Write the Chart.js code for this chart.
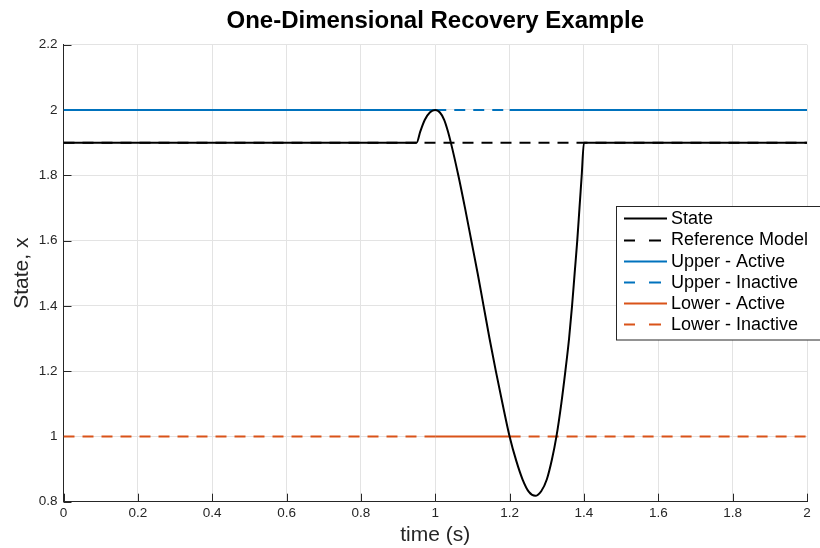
<!DOCTYPE html>
<html>
<head>
<meta charset="utf-8">
<title>One-Dimensional Recovery Example</title>
<script src="https://cdn.jsdelivr.net/npm/chart.js@4.4.1/dist/chart.umd.min.js"></script>
<style>
  body { margin: 0; background: #fff; }
  #wrap { width: 820px; height: 548px; }
</style>
</head>
<body>
<div id="wrap"><canvas id="recoveryChart" width="820" height="548"></canvas></div>
<script>
// State trajectory (time in s, state x)
const stateTime = [0, 0.95, 0.96, 0.972, 0.986, 1.0, 1.012, 1.024, 1.034, 1.042, 1.062, 1.080, 1.097, 1.114,
    1.130, 1.146, 1.163, 1.181, 1.2, 1.218, 1.235, 1.252, 1.269, 1.285, 1.3, 1.314, 1.326, 1.339, 1.350,
    1.360, 1.368, 1.375, 1.382, 1.388, 1.394, 1.4, 2.0];
const stateValue = [1.9, 1.9, 1.935, 1.97, 1.993, 2.0, 1.993, 1.97, 1.935, 1.9, 1.8, 1.7, 1.6, 1.5,
    1.4, 1.3, 1.2, 1.1, 1.0, 0.925, 0.868, 0.83, 0.818, 0.832, 0.868, 0.93, 1.0, 1.1, 1.2,
    1.3, 1.4, 1.5, 1.6, 1.7, 1.8, 1.9, 1.9];

// Reference model
const refTime = [0, 2];
const refValue = [1.9, 1.9];

// Bounds and the time windows where each one is active / inactive
const upperLevel = 2.0;
const lowerLevel = 1.0;
const upperActiveSpans = [[0, 1.0], [1.2, 2]];
const upperInactiveSpans = [[1.0, 1.2]];
const lowerActiveSpans = [[1.0, 1.2]];
const lowerInactiveSpans = [[0, 1.0], [1.2, 2]];

const seriesNames = ["State", "Reference Model", "Upper - Active", "Upper - Inactive", "Lower - Active", "Lower - Inactive"];
const seriesColors = ["#000000", "#000000", "#0072BD", "#0072BD", "#D95319", "#D95319"];
const seriesDashed = [false, true, false, true, false, true];

const FONT = "'Liberation Sans', Arial, Helvetica, sans-serif";
const AXIS_COLOR = "#262626";
const DASH = [11, 8];

function toPoints(xs, ys) {
    return xs.map((x, i) => ({ x: x, y: ys[i] }));
}

// turn [start, end] spans into one broken line at a constant level
function spanPoints(spans, level) {
    let pts = [];
    spans.forEach((s, i) => {
        if (i > 0) pts.push({ x: s[0], y: null });
        pts.push({ x: s[0], y: level }, { x: s[1], y: level });
    });
    return pts;
}

// 2 instead of 2.0, 0.2 instead of 0.20000000000000004
function tickText(v) {
    return String(Number(v.toFixed(2)));
}

const seriesData = [
    toPoints(stateTime, stateValue),
    toPoints(refTime, refValue),
    spanPoints(upperActiveSpans, upperLevel),
    spanPoints(upperInactiveSpans, upperLevel),
    spanPoints(lowerActiveSpans, lowerLevel),
    spanPoints(lowerInactiveSpans, lowerLevel)
];

const datasets = seriesNames.map((name, i) => ({
    label: name,
    data: seriesData[i],
    borderColor: seriesColors[i],
    borderWidth: 2,
    borderDash: seriesDashed[i] ? DASH : [],
    pointRadius: 0,
    spanGaps: false,
    cubicInterpolationMode: i === 0 ? "monotone" : "default",
    fill: false
}));

// inward tick marks on the left and bottom axes
const innerTicks = {
    id: "innerTicks",
    beforeDatasetsDraw(chart) {
        const ctx = chart.ctx;
        const area = chart.chartArea;
        const xs = chart.scales.x, ys = chart.scales.y;
        ctx.save();
        ctx.strokeStyle = AXIS_COLOR;
        ctx.lineWidth = 1;
        ctx.beginPath();
        xs.ticks.forEach(t => {
            let px = Math.round(xs.getPixelForValue(t.value)) + 0.5;
            ctx.moveTo(px, area.bottom);
            ctx.lineTo(px, area.bottom - 8);
        });
        ys.ticks.forEach(t => {
            let py = Math.round(ys.getPixelForValue(t.value)) + 0.5;
            ctx.moveTo(area.left, py);
            ctx.lineTo(area.left + 8, py);
        });
        ctx.stroke();
        ctx.restore();
    }
};

// boxed legend sitting inside the plot
const boxLegend = {
    id: "boxLegend",
    afterDraw(chart) {
        const ctx = chart.ctx;
        const left = 616.5, top = 206.5, width = 210, height = 133.5;
        const rowTop = 218.3, rowStep = 21.2;
        ctx.save();
        ctx.fillStyle = "#ffffff";
        ctx.fillRect(left, top, width, height);
        ctx.strokeStyle = AXIS_COLOR;
        ctx.lineWidth = 1;
        ctx.strokeRect(left, top, width, height);

        ctx.font = "18px " + FONT;
        ctx.textBaseline = "middle";
        ctx.textAlign = "left";
        seriesNames.forEach((name, i) => {
            let y = Math.round(rowTop + i * rowStep) + 0.5;
            ctx.strokeStyle = seriesColors[i];
            ctx.lineWidth = 2;
            ctx.beginPath();
            if (seriesDashed[i]) {
                ctx.moveTo(624, y); ctx.lineTo(635, y);
                ctx.moveTo(649, y); ctx.lineTo(661, y);
            } else {
                ctx.moveTo(624, y); ctx.lineTo(667, y);
            }
            ctx.stroke();
            ctx.fillStyle = "#000000";
            ctx.fillText(name, 671, rowTop + i * rowStep + 1);
        });
        ctx.restore();
    }
};

const ctx = document.getElementById("recoveryChart").getContext("2d");
new Chart(ctx, {
    type: "line",
    data: { datasets: datasets },
    plugins: [innerTicks, boxLegend],
    options: {
        responsive: false,
        animation: false,
        layout: { padding: { left: 0, right: 13, top: 0, bottom: 0 } },
        plugins: {
            legend: { display: false },
            tooltip: { enabled: false },
            title: {
                display: true,
                text: "One-Dimensional Recovery Example",
                color: "#000000",
                fullSize: false,
                font: { family: FONT, size: 24, weight: "bold" },
                padding: { top: 6.6, bottom: 9.3 }
            }
        },
        scales: {
            x: {
                type: "linear",
                min: 0,
                max: 2,
                ticks: {
                    stepSize: 0.2,
                    color: AXIS_COLOR,
                    font: { family: FONT, size: 13.5 },
                    padding: 3.5,
                    maxRotation: 0,
                    callback: tickText
                },
                grid: { color: "#e3e3e3", drawTicks: false },
                border: { color: AXIS_COLOR, width: 1 },
                title: {
                    display: true,
                    text: "time (s)",
                    color: AXIS_COLOR,
                    font: { family: FONT, size: 21 },
                    padding: { top: 0, bottom: 0 }
                },
                afterFit: s => { s.height = 46.3; }
            },
            y: {
                type: "linear",
                min: 0.8,
                max: 2.2,
                ticks: {
                    stepSize: 0.2,
                    color: AXIS_COLOR,
                    font: { family: FONT, size: 13.5 },
                    padding: 6,
                    callback: tickText
                },
                grid: { color: "#e3e3e3", drawTicks: false },
                border: { color: AXIS_COLOR, width: 1 },
                title: {
                    display: true,
                    text: "State, x",
                    color: AXIS_COLOR,
                    font: { family: FONT, size: 21 },
                    padding: { top: 9.4, bottom: 0 }
                },
                afterFit: s => { s.width = 63.5; }
            }
        }
    }
});
</script>
</body>
</html>
